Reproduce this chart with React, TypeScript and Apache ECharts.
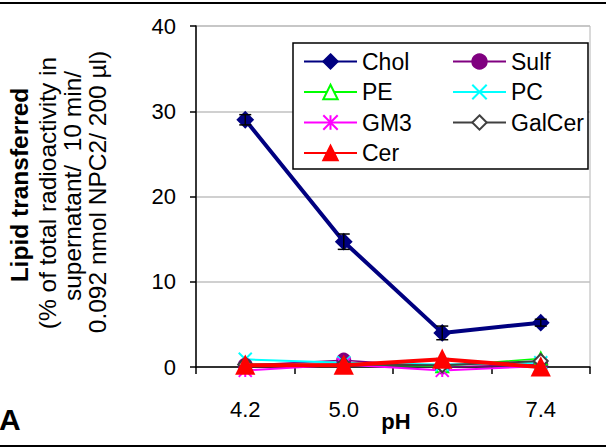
import React, { useEffect, useRef } from "react";
import * as echarts from "echarts";

const categories = ["4.2", "5.0", "6.0", "7.4"];
const yTicks = [0, 10, 20, 30, 40];

const chol = [29.0, 14.7, 4.0, 5.2];
const cholErr = [0.6, 0.9, 0.8, 0.4];
const sulf = [0.2, 0.8, 0.0, 0.3];
const pe = [0.2, 0.3, 0.1, 1.0];
const pc = [0.9, 0.5, 0.3, 0.5];
const gm3 = [-0.4, 0.3, -0.4, 0.1];
const galcer = [0.3, 0.3, 0.2, 0.7];
const cer = [0.2, 0.2, 0.9, 0.0];

const yTitleLines = [
  "(% of total radioactivity in",
  "supernatant/  10 min/",
  "0.092 nmol NPC2/ 200 µl)",
];

const FONT = "'Liberation Sans', Arial, sans-serif";

export default function App() {
  const ref = useRef<HTMLDivElement>(null);
  useEffect(() => {
    if (!ref.current) return;
    const chart = echarts.init(ref.current, null, { renderer: "svg" });

    const xPath = "path://M0,0L10,10M10,0L0,10";
    const starPath = "path://M5,0L5,10M0,0L10,10M10,0L0,10";

    const mk = (name: string, data: number[], color: string, opts: any) => ({
      name,
      type: "line",
      data,
      clip: false,
      lineStyle: { color, width: opts.lw ?? 2 },
      symbol: opts.symbol,
      symbolSize: opts.size ?? 12,
      itemStyle: opts.itemStyle ?? { color, borderColor: color, borderWidth: 2 },
      z: opts.z ?? 2,
    });

    const errData = chol.map((v, i) => [i, v - cholErr[i], v + cholErr[i]]);

    const legendCommon = {
      orient: "vertical",
      top: 45,
      itemWidth: 53,
      itemHeight: 18,
      itemGap: 7.5,
      textStyle: { fontSize: 23, color: "#000", fontFamily: FONT, lineHeight: 21 },
    };

    const titleYs = [193, 186, 192];

    chart.setOption({
      animation: false,
      textStyle: { fontFamily: FONT },
      grid: {
        left: 196,
        right: 16,
        top: 26,
        bottom: 81,
        show: true,
        borderColor: "#b4b4b4",
        borderWidth: 1,
      },
      xAxis: {
        type: "category",
        data: categories,
        boundaryGap: true,
        axisLine: { lineStyle: { color: "#000", width: 1.5 } },
        axisTick: { show: true, length: 7, lineStyle: { color: "#000", width: 1.5 } },
        axisLabel: { color: "#000", fontSize: 22, margin: 31, fontFamily: FONT },
      },
      yAxis: {
        type: "value",
        min: 0,
        max: 40,
        interval: 10,
        axisLine: { show: true, lineStyle: { color: "#000", width: 1.5 } },
        axisTick: { show: true, length: 6, lineStyle: { color: "#000", width: 1.5 } },
        axisLabel: {
          color: "#000",
          fontSize: 22,
          margin: 20,
          fontFamily: FONT,
          formatter: (v: number) => (yTicks.includes(v) ? String(v) : ""),
        },
        splitLine: { show: true, lineStyle: { color: "#c0c0c0", width: 1.5 } },
      },
      legend: [
        { ...legendCommon, data: ["Chol", "PE", "GM3", "Cer"], left: 298 },
        { ...legendCommon, data: ["Sulf", "PC", "GalCer"], left: 447 },
      ],
      series: [
        mk("Chol", chol, "#000080", { symbol: "diamond", size: 15, lw: 4, z: 5 }),
        mk("Sulf", sulf, "#800080", { symbol: "circle", size: 13, lw: 1.5 }),
        mk("PE", pe, "#00ff00", {
          symbol: "triangle",
          size: 12,
          lw: 1.5,
          itemStyle: { color: "#fff", borderColor: "#00ff00", borderWidth: 2 },
        }),
        mk("PC", pc, "#00ffff", { symbol: xPath, size: 13, lw: 2 }),
        mk("GM3", gm3, "#ff00ff", { symbol: starPath, size: 13, lw: 2 }),
        mk("GalCer", galcer, "#404040", {
          symbol: "diamond",
          size: 14,
          lw: 2,
          itemStyle: { color: "#fff", borderColor: "#404040", borderWidth: 2 },
        }),
        mk("Cer", cer, "#ff0000", { symbol: "triangle", size: 17, lw: 4, z: 4 }),
        {
          type: "custom",
          name: "err",
          data: errData,
          z: 6,
          renderItem: (params: any, api: any) => {
            const x = api.coord([api.value(0), api.value(1)])[0];
            const lo = api.coord([api.value(0), api.value(1)])[1];
            const hi = api.coord([api.value(0), api.value(2)])[1];
            const hw = 6;
            const style = { stroke: "#000", lineWidth: 1.5 };
            return {
              type: "group",
              children: [
                { type: "line", shape: { x1: x, y1: lo, x2: x, y2: hi }, style },
                { type: "line", shape: { x1: x - hw, y1: lo, x2: x + hw, y2: lo }, style },
                { type: "line", shape: { x1: x - hw, y1: hi, x2: x + hw, y2: hi }, style },
              ],
            };
          },
        },
      ],
      graphic: [
        { type: "line", shape: { x1: 0, y1: 3, x2: 606, y2: 3 }, style: { stroke: "#000", lineWidth: 2 } },
        { type: "line", shape: { x1: 0, y1: 446, x2: 606, y2: 446 }, style: { stroke: "#000", lineWidth: 2 } },
        {
          type: "rect",
          shape: { x: 293, y: 43, width: 295, height: 126 },
          style: { fill: "#fff", stroke: "#000", lineWidth: 1.5 },
          z: 3,
        },
        {
          type: "text",
          x: 19,
          y: 185,
          rotation: Math.PI / 2,
          style: {
            text: "Lipid transferred",
            fontSize: 24.5,
            fontWeight: "bold",
            fontFamily: FONT,
            fill: "#000",
            textAlign: "center",
            textVerticalAlign: "middle",
          },
        },
        ...yTitleLines.map((t, i) => ({
          type: "text",
          x: 47 + i * 25,
          y: titleYs[i],
          rotation: Math.PI / 2,
          style: {
            text: t,
            fontSize: 24.5,
            fontFamily: FONT,
            fill: "#000",
            textAlign: "center",
            textVerticalAlign: "middle",
          },
        })),
        {
          type: "text",
          x: 396,
          y: 421,
          style: {
            text: "pH",
            fontSize: 22,
            fontWeight: "bold",
            fontFamily: FONT,
            fill: "#000",
            textAlign: "center",
            textVerticalAlign: "middle",
          },
        },
        {
          type: "text",
          x: -1,
          y: 419,
          style: {
            text: "A",
            fontSize: 30,
            fontWeight: "bold",
            fontFamily: FONT,
            fill: "#000",
            textAlign: "left",
            textVerticalAlign: "middle",
          },
        },
      ],
    });
    return () => chart.dispose();
  }, []);
  return <div ref={ref} style={{ width: 606, height: 448, position: "absolute", left: 0, top: 0 }} />;
}
